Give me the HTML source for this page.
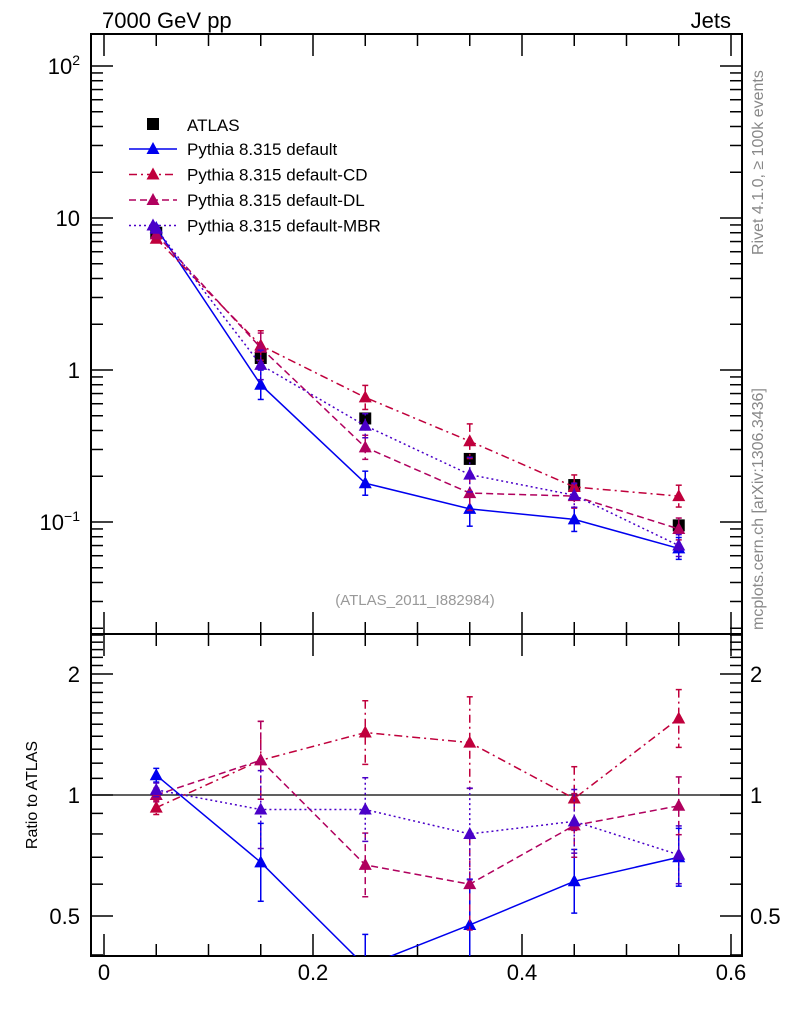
<!DOCTYPE html>
<html><head><meta charset="utf-8"><style>
body{margin:0;background:#fff;}
svg{display:block;font-family:"Liberation Sans",sans-serif;}
</style></head><body>
<svg id="chart" width="786" height="1024"></svg>
<script>
const xs = [0.05,0.15,0.25,0.35,0.45,0.55];
const atlas = [8.0,1.2,0.48,0.26,0.175,0.095];
const atlasErr = [0.4,0.08,0.04,0.02,0.015,0.008];
const sDefault = [8.6,0.8,0.18,0.122,0.104,0.067];
const sCD = [7.3,1.45,0.66,0.34,0.17,0.148];
const sDL = [7.8,1.4,0.31,0.155,0.148,0.09];
const sMBR = [8.5,1.08,0.43,0.205,0.15,0.07];
const relErr = [0.04,0.25,0.2,0.3,0.2,0.18];
const rDefault = [1.12,0.68,0.375,0.475,0.61,0.70];
const rCD = [0.93,1.22,1.43,1.35,0.98,1.55];
const rDL = [1.0,1.22,0.67,0.60,0.84,0.94];
const rMBR = [1.03,0.92,0.92,0.80,0.86,0.71];
const xTicks = [0,0.2,0.4,0.6];
const xTickLabels = ["0","0.2","0.4","0.6"];

const svg = document.getElementById('chart');
const NS = 'http://www.w3.org/2000/svg';
function mk(tag, a, parent){const e=document.createElementNS(NS,tag);for(const k in a)e.setAttribute(k,a[k]);(parent||svg).appendChild(e);return e;}
const L=91,R=742,T=34,M=634,B=956;
const X = v => 104 + v*1045;
const Y = v => 370 - Math.log10(v)*152;
const YR = v => 795 - Math.log2(v)*121;

const defs = mk('defs',{});
const c1 = mk('clipPath',{id:'cm'},defs); mk('rect',{x:L,y:T,width:R-L,height:M-T},c1);
const c2 = mk('clipPath',{id:'cr'},defs); mk('rect',{x:L,y:M,width:R-L,height:B-M},c2);

let f = mk('rect',{x:L,y:T,width:R-L,height:M-T,fill:'none',stroke:'#000','stroke-width':2});


f = mk('rect',{x:L,y:M,width:R-L,height:B-M,fill:'none',stroke:'#000','stroke-width':2});



for(let v=0; v<=0.6001; v+=0.05){
  const x=X(v); const major = Math.abs(v*10-Math.round(v*10))<1e-6 && Math.round(v*10)%2===0;
  const len = major?22:12;
  for(const [y0,dir] of [[T,1],[M,-1],[M,1],[B,-1]]){
    mk('line',{x1:x,x2:x,y1:y0,y2:y0+dir*len,stroke:'#000','stroke-width':1.5});
  }
}
xTicks.forEach((v,i)=>{
  const t = mk('text',{x:X(v),y:980,'font-size':22,'text-anchor':'middle'});
  t.textContent = xTickLabels[i];
  
  
});

for(let d=-2; d<=2; d++){
  for(let m=1;m<10;m++){
    const v=m*Math.pow(10,d); const y=Y(v);
    if(y<T||y>M) continue;
    const len = m===1?22:12;
    mk('line',{x1:L,x2:L+len,y1:y,y2:y,stroke:'#000','stroke-width':1.5});
    mk('line',{x1:R,x2:R-len,y1:y,y2:y,stroke:'#000','stroke-width':1.5});
  }
}
function ylab(y,html){const t=mk('text',{x:80,y:y+8,'font-size':22,'text-anchor':'end'});t.innerHTML=html;}
ylab(Y(100),'10<tspan dy="-9" font-size="14">2</tspan>');
ylab(Y(10),'10');
ylab(Y(1),'1');
ylab(Y(0.1),'10<tspan dy="-9" font-size="14">−1</tspan>');

const rt=[0.4,0.5,0.6,0.7,0.8,0.9,1,1.1,1.2,1.3,1.4,1.5,1.6,1.7,1.8,1.9,2,2.1,2.2,2.3,2.4,2.5];
rt.forEach(v=>{const y=YR(v); if(y<M||y>B) return; const maj=(v===0.5||v===1||v===2); const len=maj?22:12;
  mk('line',{x1:L,x2:L+len,y1:y,y2:y,stroke:'#000','stroke-width':1.5});
  mk('line',{x1:R,x2:R-len,y1:y,y2:y,stroke:'#000','stroke-width':1.5});});
[[2,'2'],[1,'1'],[0.5,'0.5']].forEach(([v,s])=>{
  let t=mk('text',{x:80,y:YR(v)+8,'font-size':22,'text-anchor':'end'});t.textContent=s;
  
  t=mk('text',{x:750,y:YR(v)+8,'font-size':22});t.textContent=s;
  
});
mk('line',{x1:L,x2:R,y1:YR(1),y2:YR(1),stroke:'#000','stroke-width':1.2});

function txt(x,y,s,a,name){const t=mk('text',a);t.setAttribute('x',x);t.setAttribute('y',y);t.textContent=s;return t;}
txt(102,28,'7000 GeV pp',{'font-size':22},'energy-label');
txt(731,28,'Jets',{'font-size':22,'text-anchor':'end'},'process-label');
txt(415,605,'(ATLAS_2011_I882984)',{'font-size':15,fill:'#999','text-anchor':'middle'},'analysis-label');
txt(0,0,'Rivet 4.1.0, ≥ 100k events',{'font-size':16,fill:'#888',transform:'translate(763,255) rotate(-90)'},'rivet-label');
txt(0,0,'mcplots.cern.ch [arXiv:1306.3436]',{'font-size':16,fill:'#888',transform:'translate(763,630) rotate(-90)'},'mcplots-label');
txt(0,0,'Ratio to ATLAS',{'font-size':16,'text-anchor':'middle',transform:'translate(37,795) rotate(-90)'},'ratio-axis-title');

const series = [
  {name:'default',v:sDefault,r:rDefault,c:'#0000ee',dash:''},
  {name:'default-CD',v:sCD,r:rCD,c:'#c0003c',dash:'8,4,2,4'},
  {name:'default-DL',v:sDL,r:rDL,c:'#b0005e',dash:'7,4'},
  {name:'default-MBR',v:sMBR,r:rMBR,c:'#4a00c8',dash:'2,3'},
];
function tri(g,x,y,c){const p=mk('path',{d:`M${x},${y-7} L${x+6.5},${y+5} L${x-6.5},${y+5} Z`,fill:c},g);return p;}
function drawSeries(s,vals,Yf,clip,pane){
  const g=mk('g',{'clip-path':`url(#${clip})`});
  
  
  vals.forEach((v,i)=>{const x=X(xs[i]);const e=relErr[i];
    mk('line',{x1:x,x2:x,y1:Yf(v*(1+e)),y2:Yf(v/(1+e)),stroke:s.c,'stroke-width':1.5,'stroke-dasharray':s.dash},g);
    mk('line',{x1:x-3,x2:x+3,y1:Yf(v*(1+e)),y2:Yf(v*(1+e)),stroke:s.c,'stroke-width':1.5},g);
    mk('line',{x1:x-3,x2:x+3,y1:Yf(v/(1+e)),y2:Yf(v/(1+e)),stroke:s.c,'stroke-width':1.5},g);
  });
  mk('polyline',{points:vals.map((v,i)=>X(xs[i])+','+Yf(v)).join(' '),fill:'none',stroke:s.c,'stroke-width':1.5,'stroke-dasharray':s.dash},g);
  vals.forEach((v,i)=>{const p=tri(g,X(xs[i]),Yf(v),s.c);
    
    });
}
const ga=mk('g',{'clip-path':'url(#cm)'});


atlas.forEach((v,i)=>{const x=X(xs[i]);
  mk('line',{x1:x,x2:x,y1:Y(v+atlasErr[i]),y2:Y(v-atlasErr[i]),stroke:'#000','stroke-width':1.5},ga);
  const r=mk('rect',{x:x-6,y:Y(v)-6,width:12,height:12,fill:'#000'},ga);
  
  });
series.forEach(s=>{drawSeries(s,s.v,Y,'cm','main');drawSeries(s,s.r,YR,'cr','ratio');});

const lg=mk('g',{});


mk('rect',{x:147,y:118,width:12,height:12,fill:'#000'},lg);
txt(187,131,'ATLAS',{'font-size':17},'legend-entry-atlas');
series.forEach((s,i)=>{const y=149+i*25.5;
  mk('line',{x1:129,x2:177,y1:y,y2:y,stroke:s.c,'stroke-width':1.5,'stroke-dasharray':s.dash},lg);
  tri(lg,153,y,s.c);
  txt(187,y+6,'Pythia 8.315 '+s.name,{'font-size':17},'legend-entry-'+s.name);
});
</script>
</body></html>
